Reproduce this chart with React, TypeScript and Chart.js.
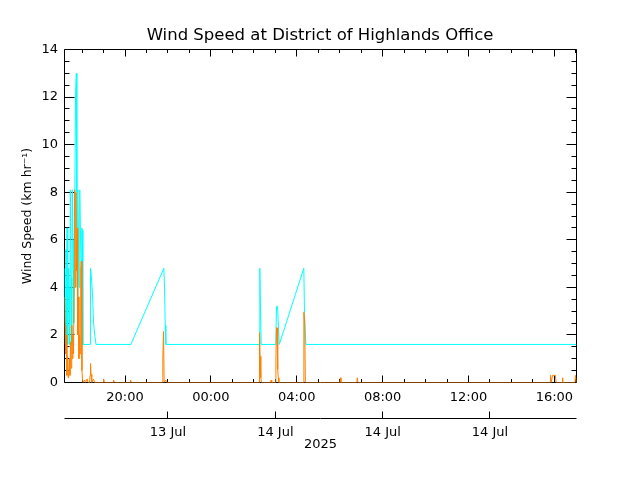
import React, { useEffect, useRef } from "react";
import { Chart, registerables } from "chart.js";

Chart.register(...registerables);

const TITLE = "Wind Speed at District of Highlands Office";
const Y_TITLE = "Wind Speed (km hr⁻¹)";
const X_TITLE = "2025";
const FONT = "'DejaVu Sans', sans-serif";

// x values are hours since 12 Jul 2025 00:00
const X_MIN = 17.18;
const X_MAX = 41.03;
const Y_MIN = 0;
const Y_MAX = 14;

const hourTickValues = [20, 24, 28, 32, 36, 40];
const hourTickLabels = ["20:00", "00:00", "04:00", "08:00", "12:00", "16:00"];
const dateTickValues = [22, 27, 32, 37];
const dateTickLabels = ["13 Jul", "14 Jul", "14 Jul", "14 Jul"];
const yTickValues = [0, 2, 4, 6, 8, 10, 12, 14];

// cyan series (gusts)
const gustTimes = [
  17.182, 17.214, 17.242, 17.275, 17.298, 17.331, 17.359, 17.392, 17.424, 17.452,
  17.485, 17.517, 17.545, 17.578, 17.611, 17.639, 17.694, 17.732, 17.755, 17.778,
  17.797, 17.825, 17.857, 17.89, 17.918, 17.951, 17.983, 18.011, 18.035, 18.379,
  18.393, 18.431, 18.486, 18.533, 18.603, 18.649, 20.27, 21.807, 21.84, 21.872,
  21.9, 26.255, 26.279, 26.311, 26.344, 27.024, 27.056, 27.103, 27.15, 27.183,
  28.328, 28.36, 28.421, 41.03,
];
const gustValues = [
  4.8, 1.6, 5.6, 2.0, 6.5, 1.6, 4.8, 4.0, 1.6, 8.1,
  4.4, 1.6, 8.1, 6.0, 2.5, 5.0, 12.1, 13.0, 8.0, 3.0,
  8.1, 6.5, 4.0, 8.1, 6.5, 5.0, 6.5, 6.4, 1.6, 1.6,
  4.8, 4.5, 3.7, 2.5, 1.9, 1.6, 1.6, 4.8, 4.0, 2.4,
  1.6, 1.6, 4.8, 3.1, 1.6, 1.6, 3.2, 3.2, 2.3, 1.6,
  4.8, 2.9, 1.6, 1.6,
];

// orange series (speed)
const speedTimes = [
  17.182, 17.21, 17.238, 17.266, 17.294, 17.322, 17.35, 17.378, 17.406, 17.434,
  17.461, 17.489, 17.517, 17.545, 17.573, 17.601, 17.629, 17.657, 17.685, 17.713,
  17.741, 17.769, 17.797, 17.825, 17.853, 17.88, 17.908, 17.936, 17.964, 17.992,
  18.02, 18.048, 18.113, 18.16, 18.23, 18.276, 18.35, 18.37, 18.393, 18.416,
  18.449, 18.533, 18.579, 18.98, 18.999, 19.045, 19.445, 19.464, 19.511, 20.236,
  20.256, 20.303, 21.737, 21.761, 21.793, 21.821, 21.9, 21.933, 26.241, 26.264,
  26.292, 26.325, 26.357, 26.785, 26.805, 26.833, 27.01, 27.028, 27.056, 27.084,
  27.112, 27.14, 27.168, 28.308, 28.331, 28.368, 28.401, 30.01, 30.031, 30.059,
  30.8, 30.819, 30.852, 39.8, 39.82, 39.85, 39.915, 40.05, 40.08, 40.36,
  40.377, 40.4, 40.96, 40.98, 41.03,
];
const speedValues = [
  3.6, 2.4, 1.2, 2.0, 0.3, 1.1, 0.2, 0.4, 1.0, 0.3,
  1.7, 0.6, 2.4, 1.0, 2.0, 1.2, 4.7, 8.1, 4.0, 8.0,
  4.7, 6.5, 2.0, 3.6, 1.0, 2.0, 1.2, 4.8, 5.1, 0.5,
  0.1, 0.0, 0.1, 0.0, 0.15, 0.0, 0.0, 0.3, 0.8, 0.35,
  0.0, 0.15, 0.0, 0.0, 0.15, 0.0, 0.0, 0.1, 0.0, 0.0,
  0.1, 0.0, 0.0, 1.0, 2.15, 0.0, 0.1, 0.0, 0.0, 2.1,
  1.1, 0.2, 0.0, 0.0, 0.1, 0.0, 0.0, 1.0, 2.3, 2.3,
  0.55, 0.2, 0.0, 0.0, 2.95, 2.5, 0.0, 0.0, 0.2, 0.0,
  0.0, 0.2, 0.0, 0.0, 0.3, 0.0, 0.3, 0.3, 0.0, 0.0,
  0.2, 0.0, 0.0, 0.3, 0.0,
];

const toPoints = (xs: number[], ys: number[]) => xs.map((x, i) => ({ x, y: ys[i] }));

const crisp = (p: number) => Math.floor(p) + 0.5;

const idlAxes = {
  id: "idlAxes",
  beforeDatasetsDraw(chart: any) {
    const { ctx, chartArea: a, scales } = chart;
    const xs = scales.x;
    const ys = scales.y;
    const x2 = scales.x2;
    ctx.save();
    ctx.strokeStyle = "#000";
    ctx.lineWidth = 1;
    ctx.beginPath();
    ctx.rect(a.left, a.top, a.right - a.left, a.bottom - a.top);
    // y ticks (inward, both sides)
    for (let i = 0; i <= (Y_MAX - Y_MIN) * 2; i++) {
      const v = Y_MIN + i * 0.5;
      const len = v % 2 === 0 ? 10 : 5;
      const py = crisp(ys.getPixelForValue(v));
      ctx.moveTo(a.left, py);
      ctx.lineTo(a.left + len, py);
      ctx.moveTo(a.right, py);
      ctx.lineTo(a.right - len, py);
    }
    // x ticks (inward, top and bottom), hourly minor
    for (let h = Math.ceil(X_MIN); h <= X_MAX; h++) {
      const len = (h - 20) % 4 === 0 ? 7 : 3.5;
      const px = crisp(xs.getPixelForValue(h));
      ctx.moveTo(px, a.bottom);
      ctx.lineTo(px, a.bottom - len);
      ctx.moveTo(px, a.top);
      ctx.lineTo(px, a.top + len);
    }
    // secondary date axis
    const ly = crisp(x2.top);
    ctx.moveTo(a.left, ly);
    ctx.lineTo(a.right, ly);
    for (const v of dateTickValues) {
      const px = crisp(x2.getPixelForValue(v));
      ctx.moveTo(px, ly);
      ctx.lineTo(px, ly - 7);
    }
    ctx.stroke();
    ctx.restore();
  },
};

export default function App() {
  const ref = useRef<HTMLCanvasElement | null>(null);

  useEffect(() => {
    document.body.style.margin = "0";
    const canvas = ref.current;
    if (!canvas) return;
    const tickFont = { family: FONT, size: 13 };
    const chart = new Chart(canvas, {
      type: "line",
      data: {
        datasets: [
          {
            label: "speed",
            data: toPoints(speedTimes, speedValues),
            borderColor: "#ff8000",
            borderWidth: 1,
            pointRadius: 0,
            tension: 0,
            fill: false,
          },
          {
            label: "gust",
            data: toPoints(gustTimes, gustValues),
            borderColor: "#00ffff",
            borderWidth: 1,
            pointRadius: 0,
            tension: 0,
            fill: false,
          },
        ],
      },
      options: {
        responsive: false,
        animation: false,
        devicePixelRatio: 1,
        events: [],
        layout: { padding: { left: 0, right: 0, top: 0, bottom: 0 } },
        plugins: {
          legend: { display: false },
          tooltip: { enabled: false },
          title: {
            display: true,
            text: TITLE,
            color: "#000",
            font: { family: FONT, size: 16.5, weight: "normal" },
            padding: { top: 26.1, bottom: 3.6 },
          },
        },
        scales: {
          x: {
            type: "linear",
            position: "bottom",
            min: X_MIN,
            max: X_MAX,
            weight: 0,
            grid: { display: false, drawTicks: false },
            border: { display: false },
            ticks: {
              padding: 7,
              color: "#000",
              font: tickFont,
              autoSkip: false,
              maxRotation: 0,
              minRotation: 0,
              callback: (v: any) => hourTickLabels[hourTickValues.indexOf(Number(v))] ?? "",
            },
            afterBuildTicks: (s: any) => {
              s.ticks = hourTickValues.map((value) => ({ value }));
            },
            afterFit: (s: any) => {
              s.height = 35.5;
            },
          },
          x2: {
            type: "linear",
            position: "bottom",
            min: X_MIN,
            max: X_MAX,
            weight: 1,
            grid: { display: false, drawTicks: false },
            border: { display: false },
            ticks: {
              padding: 7,
              color: "#000",
              font: tickFont,
              autoSkip: false,
              maxRotation: 0,
              minRotation: 0,
              callback: (v: any) => dateTickLabels[dateTickValues.indexOf(Number(v))] ?? "",
            },
            title: {
              display: true,
              text: X_TITLE,
              color: "#000",
              font: tickFont,
              padding: { top: 0, bottom: 27.2 },
            },
            afterBuildTicks: (s: any) => {
              s.ticks = dateTickValues.map((value) => ({ value }));
            },
            afterFit: (s: any) => {
              s.height = 62;
            },
          },
          y: {
            type: "linear",
            position: "left",
            min: Y_MIN,
            max: Y_MAX,
            grid: { display: false, drawTicks: false },
            border: { display: false },
            ticks: { padding: 6.5, color: "#000", font: tickFont },
            title: {
              display: true,
              text: Y_TITLE,
              color: "#000",
              font: { family: FONT, size: 12.5 },
              padding: { top: 20.6, bottom: 0 },
            },
            afterBuildTicks: (s: any) => {
              s.ticks = yTickValues.map((value) => ({ value }));
            },
            afterFit: (s: any) => {
              s.width = 64.5;
            },
          },
          yRight: {
            type: "linear",
            position: "right",
            min: Y_MIN,
            max: Y_MAX,
            grid: { display: false, drawTicks: false },
            border: { display: false },
            ticks: { display: false },
            afterFit: (s: any) => {
              s.width = 63.5;
            },
          },
        },
      },
      plugins: [idlAxes],
    } as any);
    return () => chart.destroy();
  }, []);

  return (
    <div style={{ width: 640, height: 480 }}>
      <canvas ref={ref} width={640} height={480} style={{ display: "block" }} />
    </div>
  );
}
